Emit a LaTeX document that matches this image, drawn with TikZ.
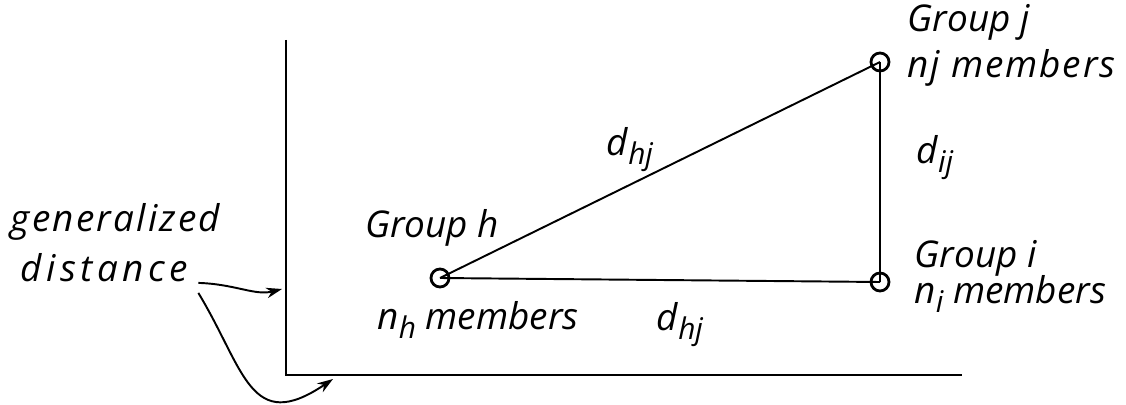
\documentclass[tikz,border=0pt]{standalone}
\usepackage{fontspec}
\setmainfont{Open Sans}
\usetikzlibrary{arrows.meta,positioning}
\newcommand{\lowsub}[1]{\raisebox{-0.45ex}{\fontsize{17}{20}\selectfont #1}}

\begin{document}
\begin{tikzpicture}[x=0.02cm,y=-0.02cm,>={Stealth[length=9pt,width=6pt]},line width=1.1pt,
  every node/.style={font=\fontsize{21}{24}\selectfont\itshape,inner sep=1pt},
  grp/.style={draw,circle,minimum size=0.36cm,inner sep=0pt,line width=1.6pt},
  wide/.style={font=\fontsize{21}{24}\selectfont\itshape\addfontfeatures{LetterSpace=#1}}]
\useasboundingbox (0,0) rectangle (1126,405);
% axes
\coordinate (ytop) at (286,40);
\coordinate (orig) at (286,375);
\coordinate (xend) at (962,375);
\draw (ytop) -- (orig) -- (xend);
% groups
\node[grp] (h) at (440,278) {};
\node[grp] (i) at (880,282) {};
\node[grp] (j) at (880,62) {};
\draw (h.center) -- (j.center);
\draw (j.center) -- (i.center);
\draw (i.center) -- (h.center);
% labels
\node[right] (gj) at (905,22) {Group j};
\node[right,wide=5] (nj) at (905,68) {nj members};
\node[right] (gi) at (912,258) {Group i};
\node[right] (ni) at (912,294) {n\lowsub{i} members};
\node (gh) at (432,228) {Group h};
\node (nh) at (478,320) {n\lowsub{h} members};
\node (dhj) at (630,150) {d\lowsub{hj}};
\node (dhjb) at (680,325) {d\lowsub{hj}};
\node (dij) at (935,158) {d\lowsub{ij}};
\node[right,wide=6] (gen) at (8,222) {generalized};
\node[right,wide=12] (dist) at (18,268) {distance};
% arrows to the axes
\coordinate (yarr) at (282,289);
\coordinate (xarr) at (333,379);
\draw[->] ([shift={(8,-2)}]dist.south east) .. controls (235,284) and (255,296) .. (yarr);
\draw[->] ([shift={(8,8)}]dist.south east) .. controls (245,370) and (250,435) .. (xarr);
\end{tikzpicture}
\end{document}
